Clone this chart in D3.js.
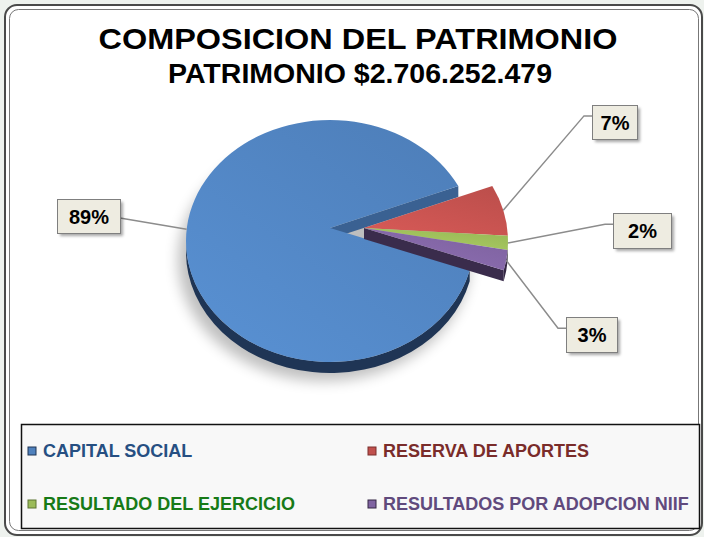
<!DOCTYPE html>
<html>
<head>
<meta charset="utf-8">
<script src="https://cdn.jsdelivr.net/npm/d3@7"></script>
<style>
  html, body { margin: 0; padding: 0; background: #eef2ee; }
  svg { display: block; font-family: "Liberation Sans", Arial, sans-serif; }
</style>
</head>
<body>
<div class="chart"></div>
<script>
// data
var categories = ['CAPITAL SOCIAL', 'RESERVA DE APORTES', 'RESULTADO DEL EJERCICIO', 'RESULTADOS POR ADOPCION NIIF'];
var shares = [88.6, 6.8, 1.9, 2.7];
var exploded = [false, true, true, true];
var titleText = 'COMPOSICION DEL PATRIMONIO';
var subtitleText = 'PATRIMONIO $2.706.252.479';

var topColors = ['#4f81bd', '#c0504d', '#9bbb59', '#8064a2'];
var sideColors = ['#1f3555', '#7a2f2d', '#5d7532', '#342744'];
var cutColors = ['#3a6192', '#8e3a38', '#6d8a3c', '#3a2c4c'];
var legendColors = ['#264f82', '#7a2c2a', '#177a17', '#604a7d'];

var width = 704, height = 537;

var svg = d3.select('.chart')
    .append('svg')
    .attr('width', width)
    .attr('height', height);

var defs = svg.append('defs');

var blur = defs.append('filter').attr('id', 'soft').attr('x', '-20%').attr('y', '-20%').attr('width', '140%').attr('height', '140%');
blur.append('feGaussianBlur').attr('stdDeviation', 7);

var boxShadow = defs.append('filter').attr('id', 'boxshadow').attr('x', '-20%').attr('y', '-20%').attr('width', '150%').attr('height', '160%');
boxShadow.append('feGaussianBlur').attr('stdDeviation', 1.5);

topColors.forEach(function (c, i) {
    var g = defs.append('linearGradient')
        .attr('id', 'top' + i)
        .attr('x1', '85%').attr('y1', '5%')
        .attr('x2', '10%').attr('y2', '95%');
    g.append('stop').attr('offset', '0%').attr('stop-color', d3.color(c).darker(0.05));
    g.append('stop').attr('offset', '100%').attr('stop-color', d3.color(c).brighter(0.3));
});

// frame
svg.append('rect')
    .attr('x', 5).attr('y', 5).attr('width', 697).attr('height', 530)
    .attr('rx', 12)
    .attr('fill', '#ffffff')
    .attr('stroke', '#4a4a4a').attr('stroke-width', 2);
svg.append('rect')
    .attr('x', 9.5).attr('y', 9.5).attr('width', 689).attr('height', 521)
    .attr('rx', 9)
    .attr('fill', 'none')
    .attr('stroke', '#777').attr('stroke-width', 1);

// titles
svg.append('text')
    .attr('x', 358).attr('y', 49)
    .attr('text-anchor', 'middle')
    .attr('font-size', 30).attr('font-weight', 'bold')
    .attr('textLength', 519).attr('lengthAdjust', 'spacingAndGlyphs')
    .text(titleText);
svg.append('text')
    .attr('x', 360).attr('y', 83)
    .attr('text-anchor', 'middle')
    .attr('font-size', 27).attr('font-weight', 'bold')
    .attr('textLength', 384).attr('lengthAdjust', 'spacingAndGlyphs')
    .text(subtitleText);

// pie geometry
var cx = 330, cy = 241, rx = 144, ry = 121;
var apexLift = 13, depth = 11;
var explode = { dx: 34, dy: 0 };

var rad = Math.PI / 180;
var endOfFirst = 63 * rad;
var startAngle = endOfFirst - shares[0] / d3.sum(shares) * 2 * Math.PI;

var pie = d3.pie()
    .value(function (d) { return d; })
    .sort(null)
    .startAngle(startAngle)
    .endAngle(startAngle + 2 * Math.PI);

var arcs = pie(shares);

function rim(t, o, down) {
    return [cx + o.dx + rx * Math.sin(t), cy + o.dy - ry * Math.cos(t) + (down || 0)];
}
function apex(o, down) {
    return [cx + o.dx, cy + o.dy - apexLift + (down || 0)];
}
function pt(p) { return p[0].toFixed(2) + ',' + p[1].toFixed(2); }

function topPath(a, o) {
    var large = (a.endAngle - a.startAngle) > Math.PI ? 1 : 0;
    return 'M' + pt(apex(o)) + 'L' + pt(rim(a.startAngle, o)) +
        'A' + rx + ',' + ry + ' 0 ' + large + ' 1 ' + pt(rim(a.endAngle, o)) + 'Z';
}
function radialPath(t, o) {
    return 'M' + pt(apex(o)) + 'L' + pt(rim(t, o)) + 'L' + pt(rim(t, o, depth)) +
        'L' + pt(apex(o, depth)) + 'Z';
}
function sidePaths(a, o) {
    // the front half of the rim runs from 90 to 270 degrees (and its turns)
    var out = [];
    [-2, 0, 2].forEach(function (k) {
        var s = Math.max(a.startAngle, (k + 0.5) * Math.PI);
        var e = Math.min(a.endAngle, (k + 1.5) * Math.PI);
        if (e <= s) return;
        out.push('M' + pt(rim(s, o)) + 'A' + rx + ',' + ry + ' 0 0 1 ' + pt(rim(e, o)) +
            'L' + pt(rim(e, o, depth)) + 'A' + rx + ',' + ry + ' 0 0 0 ' + pt(rim(s, o, depth)) + 'Z');
    });
    return out;
}

var pieG = svg.append('g');

// soft shadow under the pie
pieG.append('ellipse')
    .attr('cx', cx - 6).attr('cy', cy + depth + 8)
    .attr('rx', rx + 2).attr('ry', ry)
    .attr('fill', '#000').attr('opacity', 0.25)
    .attr('filter', 'url(#soft)');

function offsetOf(i) {
    return exploded[i] ? explode : { dx: 0, dy: 0 };
}

function drawSlices(list) {
    // side faces first
    list.forEach(function (i) {
        var a = arcs[i], o = offsetOf(i);
        var next = (i + 1) % arcs.length;
        if (exploded[i] !== exploded[next]) {
            pieG.append('path').attr('d', radialPath(a.endAngle, o)).attr('fill', cutColors[i]);
        }
        sidePaths(a, o).forEach(function (s) {
            pieG.append('path').attr('d', s).attr('fill', sideColors[i]);
        });
    });
    list.forEach(function (i) {
        pieG.append('path')
            .attr('d', topPath(arcs[i], offsetOf(i)))
            .attr('fill', 'url(#top' + i + ')');
    });
}

drawSlices([0]);
drawSlices([1, 2, 3]);

// data labels with leader lines
var labelBoxes = [
    { x: 57, y: 199, w: 63, h: 34, side: 'left', shift: 12 },
    { x: 592, y: 105, w: 45, h: 34, side: 'right', shift: 0 },
    { x: 613, y: 213, w: 58, h: 35, side: 'right', shift: 0 },
    { x: 566, y: 317, w: 51, h: 35, side: 'right', shift: 0 }
];
var fmt = d3.format('.0f');

var labelG = svg.append('g');
arcs.forEach(function (a, i) {
    var b = labelBoxes[i];
    var mid = (a.startAngle + a.endAngle) / 2 + b.shift * rad;
    var anchor = rim(mid, offsetOf(i));
    var ey = b.y + b.h * 0.32;
    var line;
    if (b.side === 'left') {
        line = [anchor, [b.x + b.w, b.y + b.h / 2 + 2]];
    } else {
        line = [anchor, [b.x - 8, ey], [b.x, ey]];
    }
    labelG.append('path')
        .attr('d', d3.line()(line))
        .attr('fill', 'none')
        .attr('stroke', '#8c8c8c')
        .attr('stroke-width', 1.5);
    labelG.append('rect')
        .attr('x', b.x + 3).attr('y', b.y + 3).attr('width', b.w).attr('height', b.h)
        .attr('fill', '#000').attr('opacity', 0.35)
        .attr('filter', 'url(#boxshadow)');
    labelG.append('rect')
        .attr('x', b.x + 0.5).attr('y', b.y + 0.5).attr('width', b.w).attr('height', b.h)
        .attr('fill', '#eeece1')
        .attr('stroke', '#7f7f7f').attr('stroke-width', 1);
    labelG.append('text')
        .attr('x', b.x + b.w / 2 + 0.5).attr('y', b.y + b.h / 2 + 7.5)
        .attr('text-anchor', 'middle')
        .attr('font-size', 20).attr('font-weight', 'bold')
        .attr('fill', '#000')
        .text(fmt(shares[i]) + '%');
});

// legend
svg.append('rect')
    .attr('x', 21.5).attr('y', 424.5).attr('width', 678).attr('height', 104)
    .attr('fill', '#f8f8f8')
    .attr('stroke', '#111').attr('stroke-width', 1.5);

var legendCols = [28, 368];
var legendRows = [457, 510];
var legend = svg.append('g')
    .selectAll('g')
    .data(categories)
    .enter()
    .append('g')
    .attr('transform', function (d, i) {
        return 'translate(' + legendCols[i % 2] + ',' + legendRows[Math.floor(i / 2)] + ')';
    });

legend.append('rect')
    .attr('x', 0).attr('y', -10).attr('width', 8).attr('height', 8)
    .attr('fill', function (d, i) { return topColors[i]; })
    .attr('stroke', function (d, i) { return sideColors[i]; })
    .attr('stroke-width', 1);

legend.append('text')
    .attr('x', 15).attr('y', 0)
    .attr('font-size', 18).attr('font-weight', 'bold')
    .attr('fill', function (d, i) { return legendColors[i]; })
    .text(function (d) { return d; });
</script>
</body>
</html>
